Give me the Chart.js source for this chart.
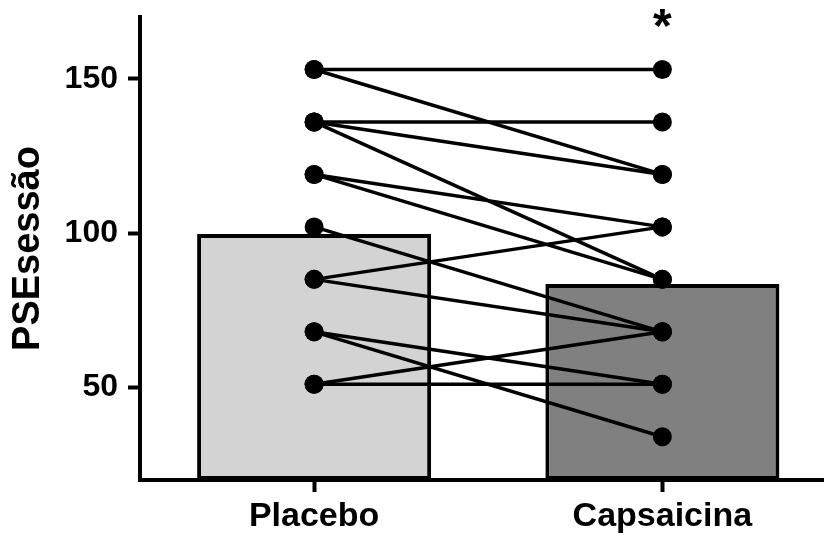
<!DOCTYPE html>
<html><head><meta charset="utf-8">
<script src="https://cdn.jsdelivr.net/npm/chart.js@4.4.1/dist/chart.umd.min.js"></script>
<style>html,body{margin:0;padding:0;overflow:hidden;background:#fff}#wrap{width:846px;height:535px}</style>
</head><body><div id="wrap"><canvas id="c" width="846" height="535"></canvas></div>
<script>
const categories = ['Placebo', 'Capsaicina'];
const barMeans = [99.7, 83.5];
const placeboSubjects    = [153, 153, 136, 136, 136, 119, 119, 102, 85, 85, 68, 68, 51, 51];
const capsaicinaSubjects = [153, 119, 136, 119, 85, 102, 85, 68, 102, 68, 51, 34, 51, 68];
const yTicks = [50, 100, 150];
const yMin = 20, yMax = 170;
const yAxisTitle = 'PSEsessão';
const significanceMark = '*';
const significanceCategory = 1;
const significanceValue = 162;

const FONT = '"Liberation Sans", Arial, sans-serif';

const datasets = [{
  type: 'bar',
  data: barMeans,
  backgroundColor: ['#d3d3d3', '#808080'],
  borderColor: '#000',
  borderWidth: 4,
  borderSkipped: false,
  base: yMin,
  categoryPercentage: 1,
  barPercentage: 0.672,
  order: 2
}];
placeboSubjects.forEach((p, i) => {
  datasets.push({
    type: 'line',
    data: [p, capsaicinaSubjects[i]],
    borderColor: '#000',
    borderWidth: 3.5,
    pointRadius: 9.5,
    pointBorderWidth: 0,
    pointBackgroundColor: '#000',
    fill: false,
    order: 1
  });
});

const starPlugin = {
  id: 'star',
  afterDatasetsDraw(chart) {
    const ctx = chart.ctx;
    const x = chart.scales.x.getPixelForValue(significanceCategory);
    const y = chart.scales.y.getPixelForValue(significanceValue);
    ctx.save();
    ctx.fillStyle = '#000';
    ctx.font = 'bold 48px ' + FONT;
    ctx.textAlign = 'center';
    ctx.textBaseline = 'alphabetic';
    ctx.fillText(significanceMark, x, y);
    ctx.restore();
  }
};

new Chart(document.getElementById('c'), {
  data: { labels: categories, datasets },
  options: {
    responsive: false,
    animation: false,
    layout: { padding: { top: 17, left: 0, right: 0, bottom: 0 } },
    plugins: { legend: { display: false }, tooltip: { enabled: false } },
    scales: {
      x: {
        type: 'category',
        offset: true,
        grid: { display: true, offset: false, drawOnChartArea: false, drawTicks: true, tickLength: 12, tickWidth: 4, tickColor: '#000' },
        border: { display: true, width: 4, color: '#000' },
        ticks: { color: '#000', padding: 4, maxRotation: 0, font: { family: FONT, size: 34, weight: 'bold' } },
        afterFit(s) { s.height = 55; s.paddingLeft = 0; s.paddingRight = 0; }
      },
      y: {
        type: 'linear',
        min: yMin, max: yMax,
        afterBuildTicks(s) { s.ticks = yTicks.map(v => ({ value: v })); },
        grid: { display: true, drawOnChartArea: false, drawTicks: true, tickLength: 12, tickWidth: 4, tickColor: '#000' },
        border: { display: true, width: 4, color: '#000' },
        ticks: { color: '#000', padding: 10, font: { family: FONT, size: 32, weight: 'bold' } },
        title: { display: true, text: yAxisTitle, color: '#000', padding: { top: 6, bottom: 0 }, font: { family: FONT, size: 38, weight: 'bold' } },
        afterFit(s) { s.width = 140; s.paddingTop = 0; s.paddingBottom = 0; }
      }
    }
  },
  plugins: [starPlugin]
});
</script>
</body></html>
